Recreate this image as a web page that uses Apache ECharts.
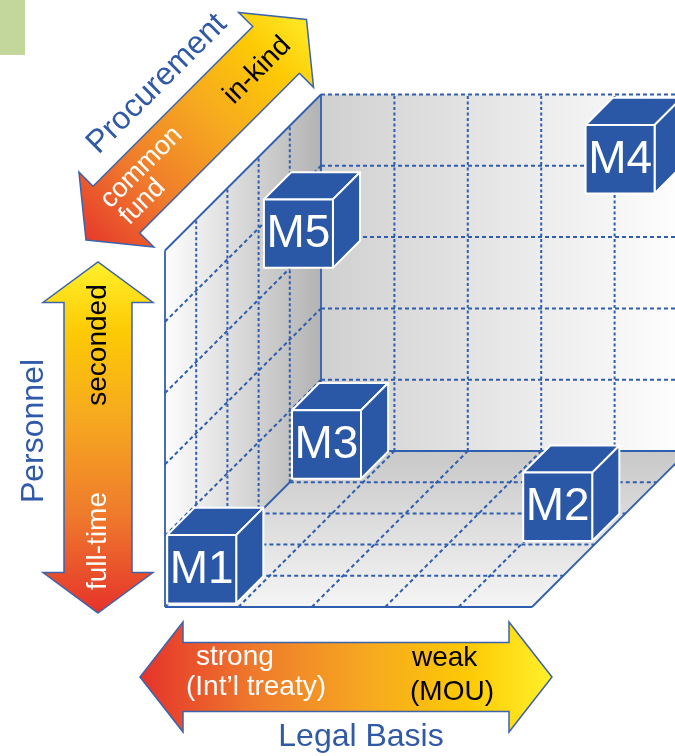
<!DOCTYPE html>
<html><head><meta charset="utf-8">
<script src="https://cdn.jsdelivr.net/npm/echarts@6/dist/echarts.min.js"></script>
<style>html,body{margin:0;padding:0;background:#fff}#c{width:675px;height:756px}</style>
</head><body><div id="c"></div>
<script>
// ---------------- DATA ----------------
const cubeNames   = ['M1', 'M2', 'M3', 'M4', 'M5'];
const legalBasis  = [0, 4, 0, 4, 0];        // 0 = strong ... 5 = weak
const personnel   = [0, 0, 0, 4, 3.35];     // 0 = full-time ... 5 = seconded
const procurement = [0, 2, 4, 4, 3.1];      // 0 = common fund ... 5 = in-kind
const gridTicks   = [0, 1, 2, 3, 4, 5];
const axisNames   = ['Legal Basis', 'Personnel', 'Procurement'];
const legalEnds   = ['strong', '(Int’l treaty)', 'weak', '(MOU)'];
const personnelEnds   = ['full-time', 'seconded'];
const procurementEnds = ['common', 'fund', 'in-kind'];

// ---------------- LAYOUT ----------------
const W = 675, H = 756;
const O = [165, 607], UX = 73.4, UY = 71.3, UZ = 31.2;   // oblique projection
function P(x, y, z) { return [O[0] + UX * x + UZ * z, O[1] - UY * y - UZ * z]; }
const N = gridTicks[gridTicks.length - 1];
const CUBE_OFF = [0.03, 0.05, 0], CUBE_SIZE = [0.94, 0.96, 0.87];
const FONT = 'Liberation Sans, Arial, Helvetica, sans-serif';
const BLUE = '#2a57a6', LINE = '#2f5eae', NAME = '#3059a8';
const G = echarts.graphic;
const arrowStops = [
  {offset: 0, color: '#e5322b'}, {offset: 0.28, color: '#ef7a2c'},
  {offset: 0.55, color: '#f6a820'}, {offset: 0.8, color: '#fdca05'}, {offset: 1, color: '#fff12b'}];

const chart = echarts.init(document.getElementById('c'));
function pc(api, p) { return api.coord(p); }

// walls
const planes = [
  {pts: [[0,0,0],[0,0,N],[0,N,N],[0,N,0]], g: [0,0,1,0], c: ['#fdfdfd', '#b3b3b3']},
  {pts: [[0,0,N],[N,0,N],[N,N,N],[0,N,N]], g: [0,0,1,0], c: ['#d0d0d0', '#ffffff']},
  {pts: [[0,0,0],[N,0,0],[N,0,N],[0,0,N]], g: [0,0,0,1], c: ['#c8c8c8', '#f5f5f5']}
];

// grid segments built from ticks: [p1, p2, style] style: 0 solid, 1 dashed, 2 vertical dotted
const segs = [];
gridTicks.slice(1, -1).forEach(t => {
  segs.push([[0,0,t],[0,N,t],2]);   // left wall verticals
  segs.push([[0,t,0],[0,t,N],1]);   // left wall horizontals
  segs.push([[t,0,N],[t,N,N],2]);   // back wall verticals
  segs.push([[0,t,N],[N,t,N],1]);   // back wall horizontals
  segs.push([[t,0,0],[t,0,N],1]);   // floor depth lines
  segs.push([[0,0,t],[N,0,t],1]);   // floor cross lines
});
segs.push([[0,N,N],[N,N,N],1]);
[[[0,0,0],[0,N,0]], [[0,N,0],[0,N,N]], [[0,0,N],[0,N,N]], [[0,0,N],[N,0,N]],
 [[0,0,0],[N,0,0]], [[N,0,0],[N,0,N]], [[0,0,0],[0,0,N]], [[N,0,N],[N,N,N]]]
  .forEach(s => segs.push([s[0], s[1], 0]));

// cubes sorted back-to-front
const cubeData = cubeNames.map((n, i) => ({name: n, value: [legalBasis[i], personnel[i], procurement[i]]}))
  .sort((a, b) => (b.value[2] - a.value[2]) || (a.value[1] - b.value[1]) || (b.value[0] - a.value[0]));

// arrows
const arrowLayout = [
  {a: [140, 677], b: [552, 677], hl: 43, hh: 55, sh: 34.5, g: [0,0,1,0]},
  {a: [98, 613], b: [98, 262], hl: 40.5, hh: 55, sh: 34, g: [0,1,0,0]},
  {a: [86, 240], b: [306.5, 19.5], hl: 43, hh: 53, sh: 33, g: [0,1,1,0]}
];
const R90 = Math.PI / 2, R45 = Math.PI / 4;
const arrowTexts = [
  [{t: legalEnds[0], x: 196, y: 657, al: 'left', f: '#fff', s: 28, r: 0},
   {t: legalEnds[1], x: 186, y: 687, al: 'left', f: '#fff', s: 28, r: 0},
   {t: legalEnds[2], x: 412, y: 658, al: 'left', f: '#000', s: 28, r: 0},
   {t: legalEnds[3], x: 410, y: 692, al: 'left', f: '#000', s: 28, r: 0},
   {t: axisNames[0], x: 361, y: 737, al: 'center', f: NAME, s: 32, r: 0}],
  [{t: personnelEnds[0], x: 98, y: 541, al: 'center', f: '#fff', s: 28, r: R90},
   {t: personnelEnds[1], x: 98, y: 345, al: 'center', f: '#000', s: 28, r: R90},
   {t: axisNames[1], x: 34, y: 431, al: 'center', f: NAME, s: 32, r: R90}],
  [{t: procurementEnds[0], x: 141.5, y: 167.5, al: 'center', f: '#fff', s: 27, r: R45},
   {t: procurementEnds[1], x: 142.5, y: 202, al: 'center', f: '#fff', s: 27, r: R45},
   {t: procurementEnds[2], x: 257.5, y: 70.5, al: 'center', f: '#000', s: 28, r: R45},
   {t: axisNames[2], x: 157, y: 84, al: 'center', f: NAME, s: 32, r: R45}]
];
function arrowPts(a, b, hl, hh, sh) {
  const dx = b[0] - a[0], dy = b[1] - a[1], L = Math.hypot(dx, dy);
  const ux = dx / L, uy = dy / L, nx = -uy, ny = ux;
  const pt = (t, s) => [a[0] + ux * t + nx * s, a[1] + uy * t + ny * s];
  return [pt(0,0), pt(hl,hh), pt(hl,sh), pt(L-hl,sh), pt(L-hl,hh), pt(L,0),
          pt(L-hl,-hh), pt(L-hl,-sh), pt(hl,-sh), pt(hl,-hh)];
}
const dashStyles = [null, [4, 3], [3, 2.5]];

const option = {
  animation: false,
  grid: {left: 0, right: 0, top: 0, bottom: 0},
  xAxis: {type: 'value', min: 0, max: W, show: false},
  yAxis: {type: 'value', min: 0, max: H, inverse: true, show: false},
  graphic: [{type: 'rect', shape: {x: 0, y: 0, width: 25, height: 55}, style: {fill: '#c3d69b'}}],
  series: [
    { type: 'custom', coordinateSystem: 'cartesian2d', z: 1, silent: true,
      data: planes.map((p, i) => [i, 0]),
      renderItem(params, api) {
        const p = planes[params.dataIndex];
        return {type: 'polygon', shape: {points: p.pts.map(q => pc(api, P(...q)))},
          style: {fill: new G.LinearGradient(p.g[0], p.g[1], p.g[2], p.g[3],
            [{offset: 0, color: p.c[0]}, {offset: 1, color: p.c[1]}]), stroke: 'none'}};
      }},
    { type: 'custom', coordinateSystem: 'cartesian2d', z: 2, silent: true,
      data: segs.map((s, i) => [i, 0]),
      renderItem(params, api) {
        const s = segs[params.dataIndex];
        const a = pc(api, P(...s[0])), b = pc(api, P(...s[1]));
        return {type: 'line', shape: {x1: a[0], y1: a[1], x2: b[0], y2: b[1]},
          style: {stroke: LINE, lineWidth: s[2] ? 2 : 1.8, lineDash: dashStyles[s[2]]}};
      }},
    { type: 'custom', coordinateSystem: 'cartesian2d', z: 3, silent: true,
      data: cubeData, encode: {x: 0, y: 1},
      renderItem(params, api) {
        const d = cubeData[params.dataIndex];
        const x = d.value[0] + CUBE_OFF[0], y = d.value[1] + CUBE_OFF[1], z = d.value[2] + CUBE_OFF[2];
        const sx = CUBE_SIZE[0], sy = CUBE_SIZE[1], sz = CUBE_SIZE[2];
        const f = q => pc(api, P(...q));
        const st = {fill: BLUE, stroke: '#ffffff', lineWidth: 2, lineJoin: 'round'};
        const c = f([x + sx / 2, y + sy / 2, z]);
        return {type: 'group', children: [
          {type: 'polygon', shape: {points: [f([x,y+sy,z]), f([x+sx,y+sy,z]), f([x+sx,y+sy,z+sz]), f([x,y+sy,z+sz])]}, style: st},
          {type: 'polygon', shape: {points: [f([x+sx,y,z]), f([x+sx,y,z+sz]), f([x+sx,y+sy,z+sz]), f([x+sx,y+sy,z])]}, style: st},
          {type: 'polygon', shape: {points: [f([x,y,z]), f([x+sx,y,z]), f([x+sx,y+sy,z]), f([x,y+sy,z])]}, style: st},
          {type: 'text', x: c[0], y: c[1] + 1, style: {text: d.name, fill: '#fff', fontSize: 46,
            fontFamily: FONT, align: 'center', verticalAlign: 'middle'}}
        ]};
      }},
    { type: 'custom', coordinateSystem: 'cartesian2d', z: 4, silent: true,
      data: arrowLayout.map((a, i) => [i, 0]),
      renderItem(params, api) {
        const L = arrowLayout[params.dataIndex];
        const pts = arrowPts(L.a, L.b, L.hl, L.hh, L.sh).map(q => pc(api, q));
        const children = [{type: 'polygon', shape: {points: pts},
          style: {fill: new G.LinearGradient(L.g[0], L.g[1], L.g[2], L.g[3], arrowStops),
            stroke: '#3d63ab', lineWidth: 1.5, lineJoin: 'miter'}}];
        arrowTexts[params.dataIndex].forEach(t => {
          const p = pc(api, [t.x, t.y]);
          children.push({type: 'text', x: p[0], y: p[1], rotation: t.r,
            style: {text: t.t, fill: t.f, fontSize: t.s, fontFamily: FONT, align: t.al, verticalAlign: 'middle'}});
        });
        return {type: 'group', children};
      }}
  ]
};
chart.setOption(option);
</script></body></html>
